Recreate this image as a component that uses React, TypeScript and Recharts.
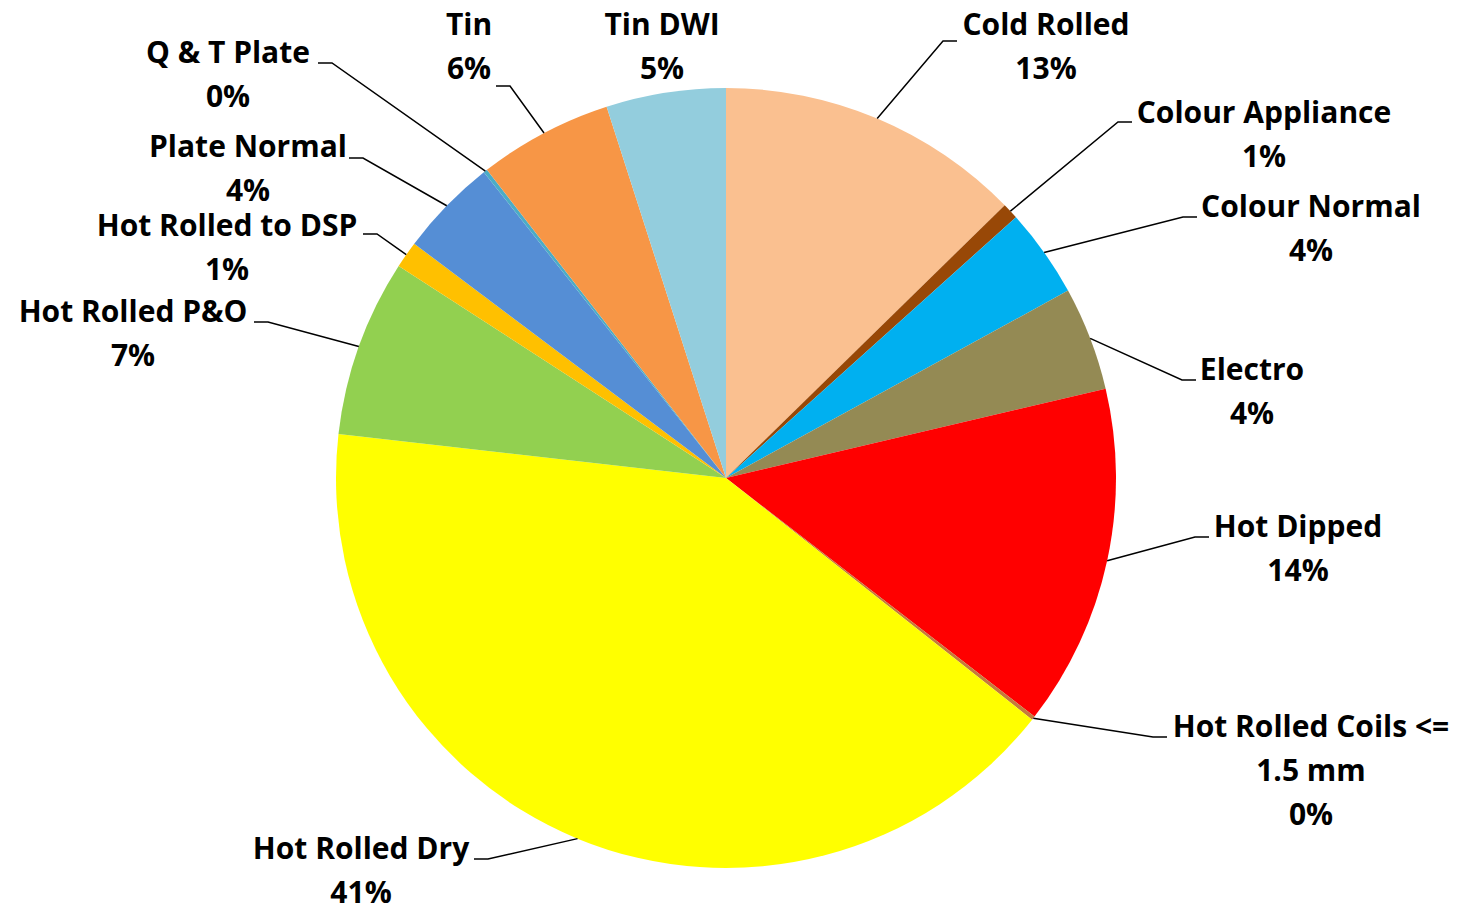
import { PieChart, Pie, Cell } from "recharts"

const categories = [
  'Cold Rolled', 'Colour Appliance', 'Colour Normal', 'Electro', 'Hot Dipped',
  'Hot Rolled Coils <= 1.5 mm', 'Hot Rolled Dry', 'Hot Rolled P&O', 'Hot Rolled to DSP',
  'Plate Normal', 'Q & T Plate', 'Tin', 'Tin DWI',
]
const shares = [12.67, 0.67, 3.68, 4.3, 14.15, 0.16, 41.15, 7.35, 1.11, 4.08, 0.16, 5.55, 4.95]
const colors = [
  '#FAC090', '#984807', '#00B0F0', '#948A54', '#FF0000', '#C47A3C', '#FFFF00',
  '#92D050', '#FFC000', '#558ED5', '#4BACC6', '#F79646', '#93CDDD',
]

// label placement: text centre x, first baseline y, elbow of leader, which way the short tail runs
const labelLayout = [
  { tx: 1046, ty: 35, ex: 943, ey: 41, dir: 1, leader: true },
  { tx: 1264, ty: 123, ex: 1118, ey: 122, dir: 1, leader: true },
  { tx: 1311, ty: 217, ex: 1183, ey: 217, dir: 1, leader: true },
  { tx: 1252, ty: 380, ex: 1182, ey: 380, dir: 1, leader: true },
  { tx: 1298, ty: 537, ex: 1195, ey: 537, dir: 1, leader: true },
  { tx: 1311, ty: 737, ex: 1153, ey: 737, dir: 1, leader: true },
  { tx: 361, ty: 859, ex: 488, ey: 859, dir: -1, leader: true },
  { tx: 133, ty: 322, ex: 268, ey: 322, dir: -1, leader: true },
  { tx: 227, ty: 236, ex: 377, ey: 234, dir: -1, leader: true },
  { tx: 248, ty: 157, ex: 363, ey: 158, dir: -1, leader: true },
  { tx: 228, ty: 63, ex: 332, ey: 63, dir: -1, leader: true },
  { tx: 469, ty: 35, ex: 510, ey: 86, dir: -1, leader: true },
  { tx: 662, ty: 35, ex: 0, ey: 0, dir: 1, leader: false },
]

const data = categories.map((name, i) => ({ name, value: shares[i] }))

const RAD = Math.PI / 180

const wrap = (text: string, max = 20) => {
  const words = text.split(' ')
  const lines: string[] = []
  let cur = ''
  words.forEach((w) => {
    const next = cur ? cur + ' ' + w : w
    if (next.length > max && cur) {
      lines.push(cur)
      cur = w
    } else cur = next
  })
  if (cur) lines.push(cur)
  return lines
}

const renderLabel = (props: any) => {
  const { cx, cy, midAngle, outerRadius, index, percent, name } = props
  const lay = labelLayout[index]
  const sx = cx + outerRadius * Math.cos(-midAngle * RAD)
  const sy = cy + outerRadius * Math.sin(-midAngle * RAD)
  const lines = [...wrap(name), Math.round(percent * 100) + '%']
  return (
    <g key={'lbl' + index}>
      {lay.leader && (
        <polyline
          points={`${sx},${sy} ${lay.ex},${lay.ey} ${lay.ex + lay.dir * 14},${lay.ey}`}
          fill="none" stroke="#000" strokeWidth={1.5}
        />
      )}
      <text x={lay.tx} y={lay.ty} textAnchor="middle" fill="#000"
        style={{ fontFamily: 'Open Sans', fontWeight: 700, fontSize: 30 }}>
        {lines.map((l, j) => (
          <tspan key={j} x={lay.tx} dy={j === 0 ? 0 : 44}>{l}</tspan>
        ))}
      </text>
    </g>
  )
}

const App = () => {
  return (
    <div style={{ position: 'absolute', left: 0, top: 0, background: '#fff' }}>
      <PieChart width={1461} height={916} margin={{ top: 0, right: 0, bottom: 0, left: 0 }}>
        <Pie data={data} dataKey="value" nameKey="name" cx={726} cy={478} outerRadius={390}
          startAngle={90} endAngle={-270} stroke="none" isAnimationActive={false}
          label={renderLabel} labelLine={false}>
          {data.map((d, i) => <Cell key={d.name} fill={colors[i]} />)}
        </Pie>
      </PieChart>
    </div>
  )
}

export default App
